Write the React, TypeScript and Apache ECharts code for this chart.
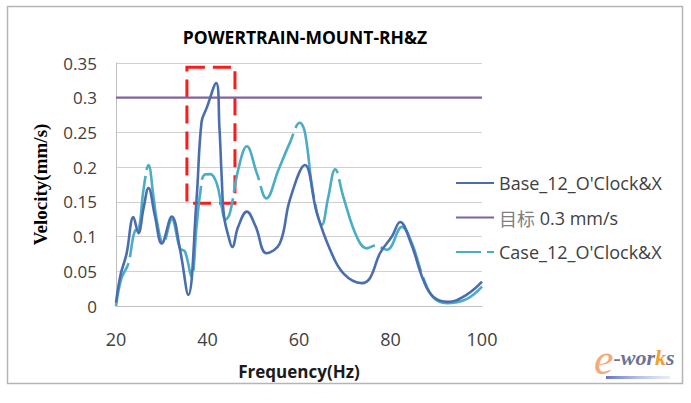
import React, { useEffect, useRef } from "react";
import * as echarts from "echarts";

const TITLE = "POWERTRAIN-MOUNT-RH&Z";
const X_NAME = "Frequency(Hz)";
const Y_NAME = "Velocity(mm/s)";
const SERIES_NAMES = ["Base_12_O'Clock&X", "目标 0.3 mm/s", "Case_12_O'Clock&X"];

const baseFreq = [20, 21, 22.3, 23.8, 24.9, 26, 27.1, 28.5, 30, 32.2, 34, 35.8, 37.6, 38.7, 39.8, 41.9, 42.6, 43.1, 43.6, 44.6, 45.4, 46.7, 48.6, 50.5, 52.9, 55.8, 58, 61.3, 63.9, 66.8, 69.7, 73.7, 75.5, 77.7, 80.3, 82.1, 84.5, 87.2, 89.4, 92.6, 96.6, 100];
const baseVel = [0.005, 0.045, 0.075, 0.128, 0.105, 0.14, 0.17, 0.13, 0.09, 0.129, 0.081, 0.016, 0.153, 0.265, 0.285, 0.321, 0.258, 0.186, 0.13, 0.1, 0.085, 0.114, 0.136, 0.115, 0.076, 0.09, 0.153, 0.203, 0.134, 0.081, 0.047, 0.033, 0.04, 0.076, 0.1, 0.121, 0.09, 0.037, 0.013, 0.006, 0.016, 0.035];

const caseFreq = [20, 21.2, 22.7, 24.2, 24.9, 26, 27.1, 28.2, 28.9, 30.3, 32.2, 34, 35.1, 36.5, 37.6, 38.4, 39.3, 40.6, 42, 43.1, 43.9, 44.9, 46.7, 48.6, 50.8, 52.9, 55.5, 58, 60.2, 61.3, 63.1, 65, 66.4, 67.9, 69.7, 72.6, 74.8, 76.6, 79.2, 82.5, 84.7, 87.2, 89.4, 92.3, 96.6, 100];
const caseVel = [0.0, 0.04, 0.061, 0.109, 0.11, 0.167, 0.203, 0.157, 0.124, 0.09, 0.125, 0.083, 0.078, 0.042, 0.114, 0.162, 0.189, 0.19, 0.177, 0.143, 0.124, 0.134, 0.196, 0.23, 0.191, 0.155, 0.196, 0.235, 0.264, 0.25, 0.162, 0.117, 0.157, 0.197, 0.157, 0.1, 0.083, 0.087, 0.081, 0.114, 0.09, 0.04, 0.012, 0.004, 0.01, 0.028];

const targetFreq = [20, 100];
const targetVel = [0.3, 0.3];

// highlighted region (red dashed box): [freqStart, freqEnd], [velTop, velBottom]
const boxFreq = [35.5, 46];
const boxVel = [0.344, 0.148];

const FONT = "'Open Sans', 'Noto Sans CJK SC', sans-serif";
const SERIF = "'Liberation Serif', serif";

export default function App() {
  const ref = useRef<HTMLDivElement>(null);
  useEffect(() => {
    if (!ref.current) return;
    const chart = echarts.init(ref.current, undefined, { renderer: "svg" });
    const zip = (xs: number[], ys: number[]) => xs.map((x, i) => [x, ys[i]]);
    chart.setOption({
      animation: false,
      backgroundColor: "#ffffff",
      textStyle: { fontFamily: FONT },
      title: {
        text: TITLE,
        left: 300,
        top: 23,
        textAlign: "center",
        textStyle: { fontFamily: FONT, fontSize: 17.5, fontWeight: "bold", color: "#000" },
      },
      grid: { left: 116, right: 209, top: 63, bottom: 97 },
      legend: {
        orient: "vertical",
        left: 455,
        top: 173,
        padding: 0,
        itemWidth: 38,
        itemHeight: 20,
        itemGap: 14.5,
        itemStyle: { opacity: 0 },
        data: [
          { name: SERIES_NAMES[0] },
          { name: SERIES_NAMES[1] },
          { name: SERIES_NAMES[2], lineStyle: { type: [25, 6], dashOffset: 0 } },
        ],
        formatter: (name: string) =>
          name.startsWith("目标") ? "{cn|目标} " + name.slice(3) : name,
        textStyle: {
          fontFamily: FONT,
          fontSize: 18,
          color: "#404040",
          lineHeight: 20,
          rich: {
            cn: { fontFamily: "'Noto Sans CJK SC', sans-serif", fontSize: 18, color: "#808080" },
          },
        },
      },
      xAxis: {
        type: "value",
        min: 20,
        max: 100,
        interval: 20,
        name: X_NAME,
        nameLocation: "middle",
        nameGap: 57,
        nameTextStyle: { fontFamily: FONT, fontSize: 17, fontWeight: "bold", color: "#1a1a1a" },
        axisLine: { show: true, lineStyle: { color: "#bfbfbf", width: 1 } },
        axisTick: { show: false },
        splitLine: { show: false },
        axisLabel: { margin: 24, fontSize: 18, color: "#404040", fontFamily: FONT },
      },
      yAxis: {
        type: "value",
        min: 0,
        max: 0.35,
        interval: 0.05,
        name: Y_NAME,
        nameLocation: "middle",
        nameRotate: 90,
        nameGap: 66,
        nameTextStyle: { fontFamily: SERIF, fontSize: 19, fontWeight: "bold", color: "#000" },
        axisLine: { show: true, lineStyle: { color: "#bfbfbf", width: 1 } },
        axisTick: { show: false },
        splitLine: { show: true, lineStyle: { color: "#d0d0d0", width: 1.2 } },
        axisLabel: {
          margin: 19,
          fontSize: 17,
          color: "#404040",
          fontFamily: FONT,
          formatter: (v: number) => String(Math.round(v * 100) / 100),
        },
      },
      series: [
        {
          name: SERIES_NAMES[0],
          type: "line",
          data: zip(baseFreq, baseVel),
          smooth: 0.4,
          symbol: "none",
          z: 3,
          lineStyle: { color: "#4a6db0", width: 2.6 },
          itemStyle: { color: "#4a6db0" },
          markArea: {
            silent: true,
            itemStyle: {
              color: "rgba(0,0,0,0)",
              borderColor: "#ff1a1a",
              borderWidth: 3,
              borderType: [18, 8],
            },
            data: [[{ xAxis: boxFreq[0], yAxis: boxVel[0] }, { xAxis: boxFreq[1], yAxis: boxVel[1] }]],
          },
        },
        {
          name: SERIES_NAMES[1],
          type: "line",
          data: zip(targetFreq, targetVel),
          symbol: "none",
          z: 2,
          lineStyle: { color: "#7f63a1", width: 2.2 },
          itemStyle: { color: "#7f63a1" },
        },
        {
          name: SERIES_NAMES[2],
          type: "line",
          data: zip(caseFreq, caseVel),
          smooth: 0.4,
          symbol: "none",
          z: 2,
          lineStyle: { color: "#4bacc6", width: 2.6, type: [85, 6], dashOffset: 40 },
          itemStyle: { color: "#4bacc6" },
        },
      ],
      graphic: [
        {
          type: "rect",
          silent: true,
          z: -10,
          shape: { x: 7.5, y: 6.5, width: 675, height: 377 },
          style: { fill: "none", stroke: "#b5b5b5", lineWidth: 1.5 },
        },
        {
          type: "rect",
          silent: true,
          shape: { x: 606, y: 376, width: 64, height: 3 },
          style: {
            fill: new echarts.graphic.LinearGradient(0, 0, 1, 0, [
              { offset: 0, color: "rgba(80,100,200,0.9)" },
              { offset: 1, color: "rgba(200,210,240,0.4)" },
            ]),
          },
        },
        {
          type: "text",
          silent: true,
          x: 594,
          y: 381,
          style: {
            text: "{e|e}{w|-wor}{k|k}{w|s}",
            textVerticalAlign: "bottom",
            rich: {
              e: { fontFamily: SERIF, fontStyle: "italic", fontSize: 44, fill: "#f6a978" },
              w: { fontFamily: SERIF, fontStyle: "italic", fontWeight: "bold", fontSize: 22, fill: "#6a7397", padding: [0, 0, 4, 0] },
              k: { fontFamily: SERIF, fontStyle: "italic", fontWeight: "bold", fontSize: 22, fill: "#f0a030", padding: [0, 0, 4, 0] },
            },
          },
        },
      ],
    });
    return () => chart.dispose();
  }, []);
  return (
    <div
      ref={ref}
      style={{ position: "fixed", left: 0, top: 0, width: 691, height: 403 }}
    />
  );
}
